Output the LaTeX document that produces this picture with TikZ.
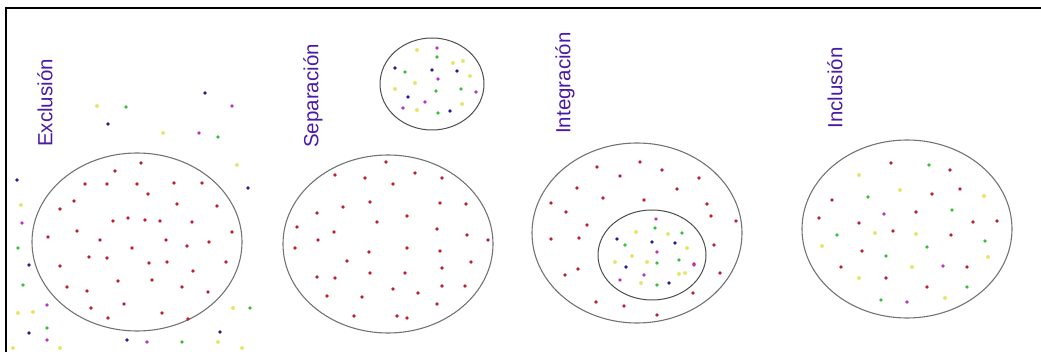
\documentclass[tikz,border=0pt]{standalone}
\usepackage{fontspec}
\setmainfont{Liberation Sans}
\definecolor{labelviolet}{RGB}{75,25,165}
\definecolor{dotred}{RGB}{190,30,50}
\definecolor{dotblue}{RGB}{35,30,150}
\definecolor{dotgreen}{RGB}{60,190,60}
\definecolor{dotyellow}{RGB}{232,228,110}
\definecolor{dotmagenta}{RGB}{190,50,190}
\tikzset{
  ring/.style={draw=black!55, line width=1.1},
  innerring/.style={draw=black!70, line width=1},
  caption/.style={rotate=90, text=labelviolet, font=\fontsize{20.5}{20.5}\selectfont, inner sep=0pt},
}
\begin{document}
\begin{tikzpicture}[x=1pt, y=-1pt]
    \useasboundingbox (0,0) rectangle (1041,352);
    % Frame
    \draw[line width=2] (6,352) -- (6,8) -- (1041,8);

    % Exclusion
    \node[caption] (exclusion) at (45,103) {Exclusión};
    \draw[ring] (137,242) ellipse (105 and 89);
    \foreach \x/\y in {141/163,115/171,85/184,107/184,137/184,174/183,202/183,148/194,74/201,60/209,
        177/204,217/206,113/221,128/218,145/220,160/221,192/222,77/231,232/232,48/237,100/240,166/240,
        209/242,132/248,187/246,89/257,107/258,149/263,167/262,60/266,226/262,193/271,118/281,152/280,
        67/287,87/291,182/287,208/292,124/304,91/308,162/313,108/318,188/319}
        \fill[dotred] (\x,\y) circle (1.8);
    \foreach \x/\y in {205/93,108/124,248/188,17/180,29/265,29/333,127/340,220/332}
        \fill[dotblue] (\x,\y) circle (1.8);
    \foreach \x/\y in {126/107,218/137,18/248,23/285,47/328,182/342,250/308}
        \fill[dotgreen] (\x,\y) circle (1.8);
    \foreach \x/\y in {97/106,163/133,237/165,21/205,18/313,33/312,13/348,218/342,233/308,242/348,60/348}
        \fill[dotyellow] (\x,\y) circle (2);
    \foreach \x/\y in {232/106,199/133,22/223,47/305,47/340,147/342}
        \fill[dotmagenta] (\x,\y) circle (1.8);

    % Separacion
    \node[caption] (separacion) at (313,96) {Separación};
    \draw[ring] (388,244) ellipse (105 and 89);
    \draw[innerring] (432,84) ellipse (52 and 46);
    \foreach \x/\y in {386/162,335/175,365/178,415/173,442/178,393/184,370/202,343/207,440/203,466/204,
        317/213,407/216,377/222,297/227,334/232,437/229,467/235,318/240,488/240,295/248,407/248,369/252,
        440/251,347/261,471/262,370/273,405/273,442/268,317/277,335/278,465/286,393/289,418/293,442/286,
        327/296,362/297,437/304,354/316,397/316,407/318}
        \fill[dotred] (\x,\y) circle (1.8);
    \foreach \x/\y in {395/68,432/70,457/71,408/97,450/111}
        \fill[dotblue] (\x,\y) circle (1.8);
    \foreach \x/\y in {437/57,405/72,436/91,461/89,438/113}
        \fill[dotgreen] (\x,\y) circle (1.8);
    \foreach \x/\y in {417/50,463/61,453/63,470/76,415/83,395/89,462/104,417/110}
        \fill[dotyellow] (\x,\y) circle (2);
    \foreach \x/\y in {437/48,438/79,476/92,425/102,403/108}
        \fill[dotmagenta] (\x,\y) circle (1.8);

    % Integracion
    \node[caption] (integracion) at (565,83) {Integración};
    \draw[ring] (637,233) ellipse (105 and 90);
    \draw[innerring] (652,255) ellipse (54 and 45);
    \foreach \x/\y in {640/162,597/167,662/170,620/176,699/178,577/188,677/189,603/198,644/200,551/203,
        707/204,566/212,711/216,587/225,736/221,551/239,579/238,714/245,694/264,565/275,578/269,720/273,
        693/293,596/302,624/306,657/315}
        \fill[dotred] (\x,\y) circle (1.8);
    \foreach \x/\y in {617/239,652/242,675/243,626/267,669/283}
        \fill[dotblue] (\x,\y) circle (1.8);
    \foreach \x/\y in {655/228,682/233,625/245,679/260,657/263,657/285}
        \fill[dotgreen] (\x,\y) circle (1.8);
    \foreach \x/\y in {668/234,636/232,687/248,632/256,615/262,647/262,679/274,641/283,685/273}
        \fill[dotyellow] (\x,\y) circle (2);
    \foreach \x/\y in {656/219,657/252,694/265,644/275,620/280}
        \fill[dotmagenta] (\x,\y) circle (1.8);

    % Inclusion
    \node[caption] (inclusion) at (835,88) {Inclusión};
    \draw[ring] (907,229) ellipse (105 and 89);
    \foreach \x/\y in {891/163,950/170,960/189,932/194,832/200,916/212,819/218,973/222,997/221,859/223,
        893/231,951/235,862/251,841/267,967/267,886/278,927/287}
        \fill[dotred] (\x,\y) circle (1.8);
    \foreach \x/\y in {929/165,868/197,952/210,837/235,985/241,927/247,886/256,967/287,881/300}
        \fill[dotgreen] (\x,\y) circle (1.8);
    \foreach \x/\y in {859/175,900/190,984/196,875/233,916/234,822/246,988/257,912/267,859/278,945/298}
        \fill[dotyellow] (\x,\y) circle (2);
    \foreach \x/\y in {884/214,943/266,907/302}
        \fill[dotmagenta] (\x,\y) circle (1.8);
\end{tikzpicture}
\end{document}
